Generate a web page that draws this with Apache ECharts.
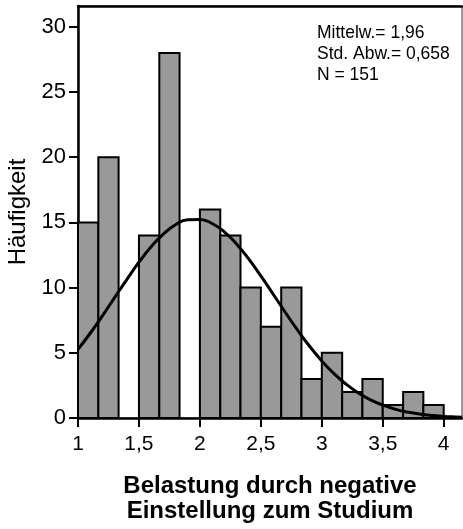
<!DOCTYPE html>
<html>
<head>
<meta charset="utf-8">
<script src="https://cdn.jsdelivr.net/npm/echarts@6/dist/echarts.min.js"></script>
<style>
html,body{margin:0;padding:0;background:#fff;}
#chart{width:463px;height:529px;}
</style>
</head>
<body>
<div id="chart"></div>
<script>
// Histogram bins (lower / upper edge) and counts
var binStart = [1.000, 1.167, 1.333, 1.500, 1.667, 1.833, 2.000, 2.167, 2.333, 2.500, 2.667, 2.833, 3.000, 3.167, 3.333, 3.500, 3.667, 3.833];
var binEnd   = [1.167, 1.333, 1.500, 1.667, 1.833, 2.000, 2.167, 2.333, 2.500, 2.667, 2.833, 3.000, 3.167, 3.333, 3.500, 3.667, 3.833, 4.000];
var counts   = [15, 20, 0, 14, 28, 0, 16, 14, 10, 7, 10, 3, 5, 2, 3, 1, 2, 1];

// Normal curve
var curveX = [1.0, 1.1, 1.2, 1.3, 1.4, 1.5, 1.6, 1.7, 1.8, 1.9, 2.0, 2.1, 2.2, 2.3, 2.4, 2.5, 2.6, 2.7, 2.8, 2.9, 3.0, 3.1, 3.2, 3.3, 3.4, 3.5, 3.6, 3.7, 3.8, 3.9, 4.0, 4.1, 4.15];
var curveY = [5.26, 6.50, 7.83, 9.23, 10.62, 11.95, 13.14, 14.11, 14.82, 15.20, 15.23, 14.92, 14.28, 13.35, 12.20, 10.90, 9.51, 8.11, 6.76, 5.50, 4.38, 3.40, 2.59, 1.92, 1.39, 0.99, 0.68, 0.46, 0.31, 0.20, 0.12, 0.08, 0.06];

// Tick labels
var xTicks = [1, 1.5, 2, 2.5, 3, 3.5, 4];
var yTicks = [0, 5, 10, 15, 20, 25, 30];

var statsLines = ['Mittelw.= 1,96', 'Std. Abw.= 0,658', 'N = 151'];
var xTitle = 'Belastung durch negative\nEinstellung zum Studium';
var yTitle = 'Häufigkeit';

var FONT = 'Liberation Sans, Arial, sans-serif';

var barData = binStart.map(function (s, i) { return [s, binEnd[i], counts[i]]; });
var curveData = curveX.map(function (x, i) { return [x, curveY[i]]; });

var chart = echarts.init(document.getElementById('chart'));
chart.setOption({
  animation: false,
  backgroundColor: '#fff',
  grid: { left: 78, right: 1, top: 6, bottom: 111, show: true, borderColor: '#333', borderWidth: 1,
    backgroundColor: 'transparent', outerBoundsMode: 'none', containLabel: false },
  xAxis: [{
    type: 'value', min: 1, max: 4.15, interval: 0.5,
    splitLine: { show: false },
    axisLine: { show: true, lineStyle: { color: '#000', width: 2.5 } },
    axisTick: { show: true, length: 9, customValues: xTicks, lineStyle: { color: '#000', width: 2 } },
    axisLabel: { customValues: xTicks, color: '#000', fontSize: 21, fontFamily: FONT, margin: 16,
      formatter: function (v) { return String(v).replace('.', ','); } },
    name: xTitle, nameLocation: 'middle', nameGap: 56,
    nameTextStyle: { color: '#000', fontSize: 24, fontWeight: 'bold', fontFamily: FONT, lineHeight: 25, verticalAlign: 'top' }
  }, {
    type: 'value', position: 'top', min: 0, max: 1,
    axisLine: { show: true, lineStyle: { color: '#000', width: 2.5 } },
    axisTick: { show: false }, axisLabel: { show: false }, splitLine: { show: false }
  }],
  yAxis: {
    type: 'value', min: 0, max: 31.6, interval: 5,
    splitLine: { show: false },
    axisLine: { show: true, lineStyle: { color: '#000', width: 2.5 } },
    axisTick: { show: true, length: 9, customValues: yTicks, lineStyle: { color: '#000', width: 2 } },
    axisLabel: { customValues: yTicks, color: '#000', fontSize: 22, fontFamily: FONT, margin: 12 },
    name: yTitle, nameLocation: 'middle', nameGap: 48, nameRotate: 90,
    nameTextStyle: { color: '#000', fontSize: 24, fontFamily: FONT }
  },
  series: [{
    type: 'custom',
    data: barData,
    encode: { x: [0, 1], y: 2 },
    renderItem: function (params, api) {
      var c = api.value(2);
      if (!c) return null;
      var p0 = api.coord([api.value(0), c]);
      var p1 = api.coord([api.value(1), 0]);
      return {
        type: 'rect',
        shape: { x: p0[0], y: p0[1], width: p1[0] - p0[0], height: p1[1] - p0[1] },
        style: { fill: '#999999', stroke: '#000', lineWidth: 2 }
      };
    }
  }, {
    type: 'line',
    data: curveData,
    smooth: true,
    showSymbol: false,
    symbol: 'none',
    lineStyle: { color: '#000', width: 3 },
    z: 5
  }],
  graphic: statsLines.map(function (t, i) {
    return {
      type: 'text', left: 317, top: 24 + i * 21,
      style: { text: t, fill: '#000', font: '17.5px ' + FONT }
    };
  })
});
</script>
</body>
</html>
